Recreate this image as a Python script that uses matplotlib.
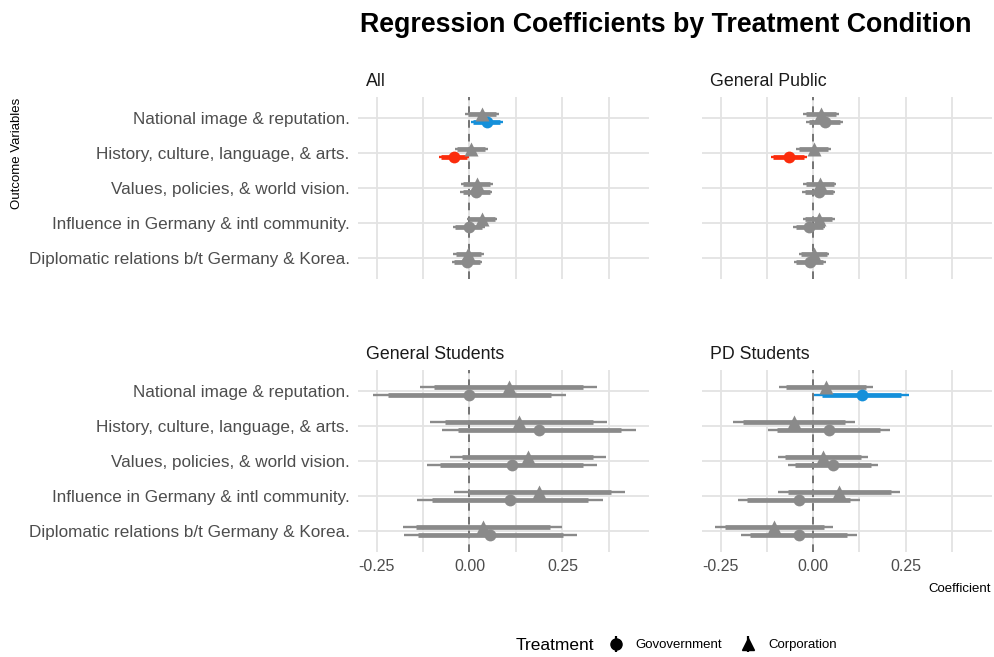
import numpy as np
import matplotlib
matplotlib.use("Agg")
import matplotlib.pyplot as plt
from matplotlib.lines import Line2D
from matplotlib.path import Path
from matplotlib.legend_handler import HandlerTuple
from matplotlib.offsetbox import HPacker

plt.rcParams['font.family'] = ['Liberation Sans Narrow', 'Liberation Sans', 'DejaVu Sans']

# outcomes, listed top to bottom
outcomes = ["National image & reputation.",
            "History, culture, language, & arts.",
            "Values, policies, & world vision.",
            "Influence in Germany & intl community.",
            "Diplomatic relations b/t Germany & Korea."]

panels = ["All", "General Public", "General Students", "PD Students"]

# estimates / standard errors per panel (Government = circle, Corporation = triangle)
all_gov_est = [0.046, -0.042, 0.018, -0.002, -0.007]
all_gov_se = [0.022, 0.021, 0.022, 0.022, 0.021]
all_corp_est = [0.033, 0.005, 0.020, 0.034, -0.003]
all_corp_se = [0.023, 0.023, 0.022, 0.021, 0.021]

gp_gov_est = [0.031, -0.066, 0.015, -0.010, -0.009]
gp_gov_se = [0.025, 0.025, 0.023, 0.022, 0.022]
gp_corp_est = [0.022, 0.002, 0.018, 0.015, 0.002]
gp_corp_se = [0.025, 0.024, 0.023, 0.022, 0.021]

gs_gov_est = [0.000, 0.188, 0.114, 0.109, 0.056]
gs_gov_se = [0.133, 0.133, 0.117, 0.128, 0.119]
gs_corp_est = [0.105, 0.132, 0.157, 0.188, 0.036]
gs_corp_se = [0.122, 0.121, 0.107, 0.117, 0.109]

pd_gov_est = [0.131, 0.042, 0.054, -0.039, -0.039]
pd_gov_se = [0.065, 0.084, 0.062, 0.084, 0.080]
pd_corp_est = [0.035, -0.052, 0.027, 0.071, -0.105]
pd_corp_se = [0.065, 0.084, 0.062, 0.084, 0.081]

xticks = [-0.25, 0.0, 0.25]
xticklabels = ["-0.25", "0.00", "0.25"]

GREY = "#8a8a8a"
BLUE = "#1590da"
RED = "#fb2c0c"

W, H = 995, 657
fig = plt.figure(figsize=(W / 100, H / 100), dpi=100)
fig.patch.set_facecolor("white")

def ax_at(x0, y0, x1, y1):
    return fig.add_axes([x0 / W, 1 - y1 / H, (x1 - x0) / W, (y1 - y0) / H])

boxes = [(358, 97, 649, 279), (702, 97, 992, 279),
         (358, 370, 649, 552), (702, 370, 992, 552)]
data = [(all_gov_est, all_gov_se, all_corp_est, all_corp_se),
        (gp_gov_est, gp_gov_se, gp_corp_est, gp_corp_se),
        (gs_gov_est, gs_gov_se, gs_corp_est, gs_corp_se),
        (pd_gov_est, pd_gov_se, pd_corp_est, pd_corp_se)]

ypos = np.arange(len(outcomes))[::-1] + 1
dodge = 0.125

for i, (box, name, d) in enumerate(zip(boxes, panels, data)):
    ax = ax_at(*box)
    ax.set_xlim(-0.30, 0.483)
    ax.set_ylim(0.4, 5.6)
    ax.set_facecolor("white")
    for s in ax.spines.values():
        s.set_visible(False)
    for gx in [-0.375, -0.25, -0.125, 0.0, 0.125, 0.25, 0.375]:
        ax.axvline(gx, color="#e3e3e3", lw=1.3, zorder=0)
    for gy in ypos:
        ax.axhline(gy, color="#e3e3e3", lw=1.3, zorder=0)
    ax.axvline(0, color="#555555", lw=1.1, ls=(0, (5, 4)), zorder=1)

    gov_est, gov_se, corp_est, corp_se = d
    for est, se, off, mk in [(gov_est, gov_se, -dodge, "o"), (corp_est, corp_se, dodge, "^")]:
        est = np.array(est)
        se = np.array(se)
        for k in range(len(est)):
            lo95, hi95 = est[k] - 1.96 * se[k], est[k] + 1.96 * se[k]
            lo90, hi90 = est[k] - 1.645 * se[k], est[k] + 1.645 * se[k]
            if lo95 > 0:
                c = BLUE
            elif hi95 < 0:
                c = RED
            else:
                c = GREY
            y = ypos[k] + off
            ax.plot([lo95, hi95], [y, y], color=c, lw=1.7, solid_capstyle="butt", zorder=2)
            ax.plot([lo90, hi90], [y, y], color=c, lw=3.4, solid_capstyle="butt", zorder=3)
            ax.plot(est[k], y, marker=mk, color=c, ms=8.5 if mk == "o" else 9.5,
                    mec="none", zorder=4)

    ax.tick_params(length=0, labelcolor="#4d4d4d")
    ax.tick_params(axis="y", labelsize=12.3, pad=6)
    ax.tick_params(axis="x", labelsize=11.5, pad=5)
    ax.set_xticks(xticks)
    if i >= 2:
        ax.set_xticklabels(xticklabels)
    else:
        ax.set_xticklabels([])
    ax.set_yticks(ypos)
    if i % 2 == 0:
        ax.set_yticklabels(outcomes)
    else:
        ax.set_yticklabels([])
    ax.text(0.027, 1.04, name, transform=ax.transAxes, ha="left", va="bottom",
            fontsize=12.8, color="#1a1a1a")

fig.text(666 / W, 1 - 25 / H, "Regression Coefficients by Treatment Condition",
         ha="center", va="center", fontsize=19.3, fontweight="bold", color="black")
fig.text(17 / W, 1 - 153 / H, "Outcome Variables", rotation=90, ha="center",
         va="center", fontsize=9.5, color="black")
fig.text(991 / W, 1 - 589 / H, "Coefficient", ha="right", va="center",
         fontsize=9.5, color="black")

# legend: point-range glyphs (marker with vertical line through it)
vline = Path([(0, -1.6), (0, 1.6)], [Path.MOVETO, Path.LINETO])
h_gov = (Line2D([], [], marker=vline, ms=11, mew=1.6, color="black", ls="none"),
         Line2D([], [], marker="o", ms=8, color="black", ls="none"))
h_corp = (Line2D([], [], marker=vline, ms=11, mew=1.6, color="black", ls="none"),
          Line2D([], [], marker="^", ms=9, color="black", ls="none"))
leg = fig.legend([h_gov, h_corp], ["Govovernment", "Corporation"],
                 handler_map={tuple: HandlerTuple(ndivide=1, pad=0)},
                 loc="center", bbox_to_anchor=(676 / W, 1 - 645 / H), ncol=2,
                 frameon=False, title="Treatment", fontsize=9.5,
                 title_fontsize=12.5, handlelength=1.2, columnspacing=1.4,
                 handletextpad=0.9)
title_box = leg._legend_title_box
items_box = leg._legend_handle_box
leg._legend_box._children = [HPacker(pad=0, sep=10, children=[title_box, items_box], align="center")]

fig.savefig("out.png", dpi=100, facecolor="white")
